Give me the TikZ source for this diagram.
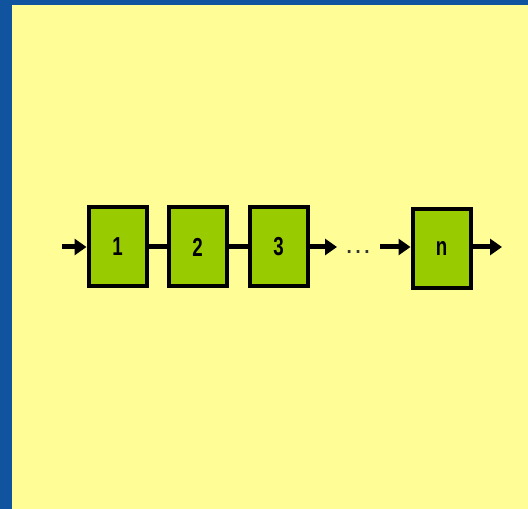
\documentclass[tikz,border=0pt]{standalone}
\usepackage{fontspec}
\setmainfont{Liberation Sans}
\usetikzlibrary{arrows.meta}
\definecolor{bgyellow}{RGB}{255,253,150}
\definecolor{frameblue}{RGB}{16,84,160}
\definecolor{boxgreen}{RGB}{153,204,0}
\tikzset{
  stage/.style={draw=black, line width=4pt, fill=boxgreen, minimum width=58pt, minimum height=79pt, inner sep=0pt, font=\fontsize{26}{26}\selectfont},
  link/.style={line width=5pt, black},
  flow/.style={link, -{Triangle[length=12pt,width=16pt]}}
}
\newcommand{\narrowtxt}[1]{\scalebox{0.72}[1]{\textbf{#1}}}
\begin{document}
\begin{tikzpicture}[x=1pt,y=1pt]
\useasboundingbox (0,0) rectangle (528,509);
\fill[frameblue] (0,0) rectangle (528,509);
\fill[bgyellow] (12,0) rectangle (528,504);
\node[stage] (n1) at (117.5,262) {\narrowtxt{1}};
\node[stage] (n2) at (197.5,262) {\narrowtxt{2}};
\node[stage] (n3) at (278.5,262) {\narrowtxt{3}};
\node[stage] (nn) at (441.5,260) {\narrowtxt{n}};
\coordinate (in) at (62,262);
\coordinate (a3) at (337,262);
\coordinate (bn) at (380,262);
\coordinate (out) at (502,262);
\node[font=\fontsize{28}{28}\selectfont, inner sep=0pt, text=black!80] (dots) at (358,257) {\dots};
\draw[flow] (in) -- (n1.west);
\draw[link] (n1.east) -- (n2.west);
\draw[link] (n2.east) -- (n3.west);
\draw[flow] (n3.east) -- (a3);
\draw[flow] (bn) -- (nn.west |- bn);
\draw[flow] (nn.east |- out) -- (out);
\end{tikzpicture}
\end{document}
